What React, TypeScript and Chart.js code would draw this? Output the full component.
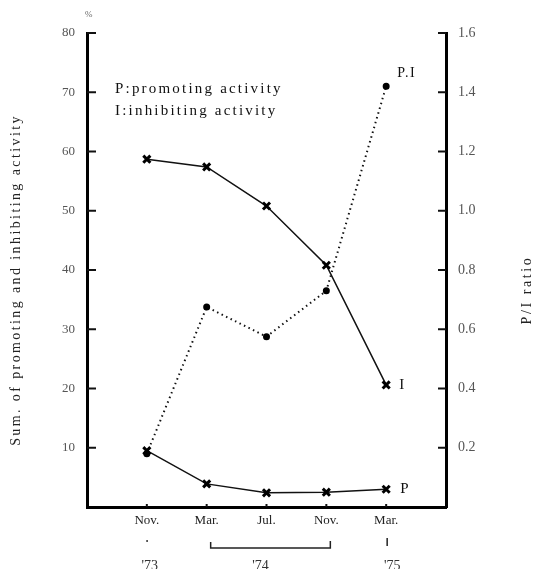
import React, { useEffect, useRef } from "react";
import { Chart, registerables } from "chart.js";

Chart.register(...registerables);

const months = ["Nov.", "Mar.", "Jul.", "Nov.", "Mar."];
const years = ["'73", "'74", "'75"];
const promoting = [9.5, 3.9, 2.4, 2.5, 3.0];
const inhibiting = [58.7, 57.4, 50.8, 40.8, 20.6];
const piRatio = [0.18, 0.675, 0.575, 0.73, 1.42];
const leftTicks = [10, 20, 30, 40, 50, 60, 70, 80];
const rightTicks = [0.2, 0.4, 0.6, 0.8, 1.0, 1.2, 1.4, 1.6];

const SERIF = "'Liberation Serif', 'DejaVu Serif', serif";

const overlay = {
  id: "overlay",
  afterDraw(chart: any) {
    const { ctx, chartArea } = chart;
    const x = chart.scales.x;
    const y = chart.scales.y;
    const y2 = chart.scales.y2;
    ctx.save();
    ctx.strokeStyle = "#111";
    ctx.fillStyle = "#111";
    ctx.lineWidth = 2;
    const seg = (x1: number, y1: number, x2: number, yy2: number) => {
      ctx.beginPath();
      ctx.moveTo(x1, y1);
      ctx.lineTo(x2, yy2);
      ctx.stroke();
    };
    leftTicks.forEach((v) => {
      const py = y.getPixelForValue(v);
      seg(chartArea.left, py, chartArea.left + 9, py);
    });
    rightTicks.forEach((v) => {
      const py = y2.getPixelForValue(v);
      seg(chartArea.right - 8, py, chartArea.right, py);
    });
    months.forEach((_, i) => {
      const px = x.getPixelForValue(i);
      seg(px, chartArea.bottom, px, chartArea.bottom - 3);
    });

    // year row
    ctx.font = `14px ${SERIF}`;
    ctx.textAlign = "center";
    ctx.textBaseline = "top";
    ctx.fillStyle = "#333";
    const yearPos = [0.05, 1.9, 4.1];
    years.forEach((t, i) => ctx.fillText(t, x.getPixelForValue(yearPos[i]), 559));
    ctx.lineWidth = 1.5;
    ctx.strokeStyle = "#222";
    const bx1 = x.getPixelForValue(1) + 4;
    const bx2 = x.getPixelForValue(3) + 4;
    ctx.beginPath();
    ctx.moveTo(bx1, 542);
    ctx.lineTo(bx1, 548);
    ctx.lineTo(bx2, 548);
    ctx.lineTo(bx2, 541);
    ctx.stroke();
    const m4 = x.getPixelForValue(4) + 1;
    seg(m4, 538, m4, 546);
    const m0 = x.getPixelForValue(0);
    ctx.fillRect(m0 - 0.5, 540, 1.5, 2);

    // legend text
    ctx.fillStyle = "#111";
    ctx.textAlign = "left";
    ctx.textBaseline = "middle";
    ctx.font = `15px ${SERIF}`;
    (ctx as any).letterSpacing = "2.2px";
    ctx.fillText("P:promoting activity", 115, 89);
    ctx.fillText("I:inhibiting activity", 115, 111);

    // series labels
    (ctx as any).letterSpacing = "1.5px";
    ctx.font = `14px ${SERIF}`;
    ctx.fillText("P.I", x.getPixelForValue(4) + 11, y2.getPixelForValue(piRatio[4]) - 13);
    ctx.font = `15px ${SERIF}`;
    ctx.fillText("I", x.getPixelForValue(4) + 13, y.getPixelForValue(inhibiting[4]));
    ctx.fillText("P", x.getPixelForValue(4) + 14, y.getPixelForValue(promoting[4]));

    // unit mark
    ctx.font = `9px ${SERIF}`;
    ctx.fillStyle = "#666";
    (ctx as any).letterSpacing = "0px";
    ctx.fillText("%", chartArea.left - 2, 15);

    // axis titles
    ctx.fillStyle = "#222";
    ctx.font = `14px ${SERIF}`;
    (ctx as any).letterSpacing = "2.4px";
    ctx.textAlign = "center";
    ctx.save();
    ctx.translate(16, 280);
    ctx.rotate(-Math.PI / 2);
    ctx.fillText("Sum. of promoting and inhibiting activity", 0, 0);
    ctx.restore();
    ctx.save();
    ctx.translate(527, 290);
    ctx.rotate(-Math.PI / 2);
    (ctx as any).letterSpacing = "2.6px";
    ctx.fillText("P/I ratio", 0, 0);
    ctx.restore();
    ctx.restore();
  },
};

export default function App() {
  const ref = useRef<HTMLCanvasElement | null>(null);
  useEffect(() => {
    document.body.style.margin = "0";
    const chart = new Chart(ref.current as HTMLCanvasElement, {
      type: "line",
      data: {
        datasets: [
          {
            label: "I",
            data: inhibiting.map((v, i) => ({ x: i, y: v })),
            yAxisID: "y",
            borderColor: "#111",
            borderWidth: 1.5,
            pointStyle: "crossRot",
            pointRadius: 5,
            pointBorderWidth: 3,
            pointBorderColor: "#000",
            tension: 0,
          },
          {
            label: "P",
            data: promoting.map((v, i) => ({ x: i, y: v })),
            yAxisID: "y",
            borderColor: "#111",
            borderWidth: 1.5,
            pointStyle: "crossRot",
            pointRadius: 5,
            pointBorderWidth: 3,
            pointBorderColor: "#000",
            tension: 0,
          },
          {
            label: "P/I",
            data: piRatio.map((v, i) => ({ x: i, y: v })),
            yAxisID: "y2",
            borderColor: "#111",
            borderWidth: 2,
            borderDash: [1.5, 3.5],
            pointStyle: "circle",
            pointRadius: 2.5,
            pointBackgroundColor: "#000",
            pointBorderColor: "#000",
            tension: 0,
          },
        ],
      },
      options: {
        animation: false,
        responsive: false,
        layout: { padding: { top: 33, left: 0, right: 0, bottom: 0 } },
        plugins: { legend: { display: false }, tooltip: { enabled: false } },
        scales: {
          x: {
            type: "linear",
            min: -1,
            max: 5,
            grid: { display: false, drawTicks: false },
            border: { display: true, color: "#000", width: 3 },
            ticks: {
              stepSize: 1,
              padding: 6,
              color: "#222",
              font: { family: SERIF, size: 13 },
              callback: (v: any) => (v >= 0 && v < months.length ? months[v] : ""),
              maxRotation: 0,
              autoSkip: false,
            },
            afterFit: (s: any) => {
              s.height = 62;
            },
          },
          y: {
            position: "left",
            min: 0,
            max: 80,
            grid: { display: false, drawTicks: false },
            border: { display: true, color: "#000", width: 3 },
            ticks: {
              stepSize: 10,
              padding: 12,
              color: "#555",
              font: { family: SERIF, size: 13 },
              callback: (v: any) => (v === 0 ? "" : String(v)),
            },
            afterFit: (s: any) => {
              s.width = 87;
            },
          },
          y2: {
            position: "right",
            min: 0,
            max: 1.6,
            grid: { display: false, drawTicks: false },
            border: { display: true, color: "#000", width: 3 },
            ticks: {
              stepSize: 0.2,
              padding: 12,
              color: "#555",
              font: { family: SERIF, size: 14 },
              callback: (v: any) => (v < 0.01 ? "" : Number(v).toFixed(1)),
            },
            afterFit: (s: any) => {
              s.width = 88;
            },
          },
        },
      },
      plugins: [overlay],
    });
    return () => chart.destroy();
  }, []);
  return (
    <div style={{ position: "absolute", left: 0, top: 0, width: 534, height: 569, background: "#fff" }}>
      <canvas ref={ref} width={534} height={569} />
    </div>
  );
}
